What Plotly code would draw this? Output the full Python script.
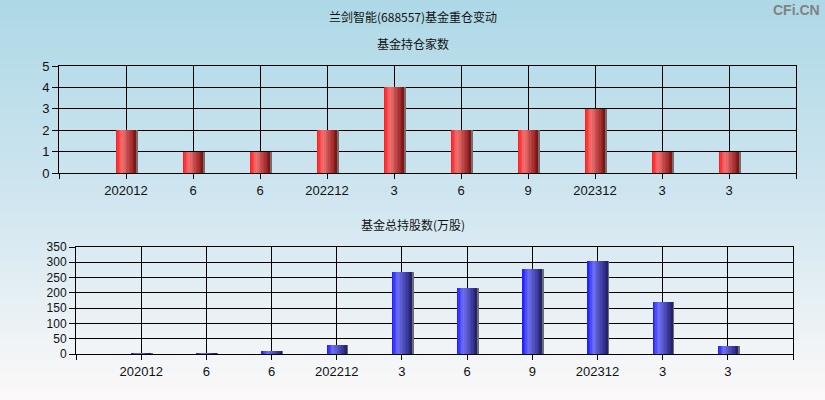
import plotly.graph_objects as go

# ---- data ----
categories = ["202012", "6", "6", "202212", "3", "6", "9", "202312", "3", "3"]
fund_counts = [2, 1, 1, 2, 4, 2, 2, 3, 1, 1]
fund_shares = [3, 3, 10, 29, 268, 216, 278, 304, 170, 26]

title_main = "兰剑智能(688557)基金重仓变动"
title_top = "基金持仓家数"
title_bottom = "基金总持股数(万股)"

W, H = 825, 400
FONT = "Liberation Sans, Arial, Noto Sans CJK SC, sans-serif"
CJK = "Noto Sans CJK SC, sans-serif"


def lerp(c1, c2, t):
    return tuple(int(round(a + (b - a) * t)) for a, b in zip(c1, c2))


def grad_color(stops, t):
    for (p1, c1), (p2, c2) in zip(stops[:-1], stops[1:]):
        if p1 <= t <= p2:
            return lerp(c1, c2, (t - p1) / (p2 - p1))
    return stops[-1][1]


red_stops = [(0.0, (255, 20, 20)), (0.3, (242, 115, 115)), (1.0, (125, 15, 15))]
blue_stops = [(0.0, (25, 25, 255)), (0.3, (112, 112, 245)), (1.0, (30, 30, 105))]

fig = go.Figure()

x_pos = list(range(1, len(categories) + 1))


def add_grad_bars(values, stops, bw, xa, ya, n=14):
    # shadow
    fig.add_trace(go.Bar(x=x_pos, y=values, width=0.03, offset=bw / 2 - 0.005,
                         marker=dict(color="rgb(110,110,110)", line=dict(width=0)),
                         xaxis=xa, yaxis=ya, hoverinfo="skip", showlegend=False))
    dw = bw / n
    for i in range(n):
        t = (i + 0.5) / n
        c = grad_color(stops, t)
        fig.add_trace(go.Bar(x=x_pos, y=values, width=bw - i * dw, offset=-bw / 2 + i * dw,
                             marker=dict(color="rgb(%d,%d,%d)" % c, line=dict(width=0)),
                             xaxis=xa, yaxis=ya, hoverinfo="skip", showlegend=False))


add_grad_bars(fund_counts, red_stops, 0.30, "x", "y")
add_grad_bars(fund_shares, blue_stops, 0.31, "x2", "y2")

# background gradient
shapes = []
N = 60
top_c, mid_c, bot_c = (173, 216, 230), (208, 230, 240), (252, 249, 249)
for i in range(N):
    t = (i + 0.5) / N  # 0 at top
    if t < 0.5:
        c = lerp(top_c, mid_c, t / 0.5)
    else:
        c = lerp(mid_c, bot_c, (t - 0.5) / 0.5)
    y1 = 1 - i / N
    y0 = 1 - (i + 1) / N - 0.002
    shapes.append(dict(type="rect", xref="paper", yref="paper", x0=0, x1=1,
                       y0=max(y0, 0), y1=y1, fillcolor="rgb(%d,%d,%d)" % c,
                       line=dict(width=0), layer="below"))

tickvals = list(range(0, len(categories) + 2))
ticktext = [""] + categories + [""]

xcommon = dict(range=[0, len(categories) + 1], tickmode="array", tickvals=tickvals,
               ticktext=ticktext, showgrid=True, gridcolor="black", gridwidth=1,
               showline=True, linecolor="black", linewidth=1, mirror=True,
               ticks="outside", ticklen=5, tickcolor="black", zeroline=False,
               automargin=False,
               tickfont=dict(family=FONT, size=13, color="#111"), fixedrange=True)
ycommon = dict(showgrid=True, gridcolor="black", gridwidth=1, showline=True,
               linecolor="black", linewidth=1, mirror=True, ticks="outside",
               ticklen=6, tickcolor="black", zeroline=False, fixedrange=True,
               automargin=False,
               tickfont=dict(family=FONT, size=13, color="#111"))

fig.update_layout(
    template="none",
    width=W, height=H, margin=dict(l=0, r=0, t=0, b=0, pad=0), autosize=False,
    paper_bgcolor="rgb(215,234,242)", plot_bgcolor="rgba(0,0,0,0)",
    barmode="overlay", bargap=0, showlegend=False, shapes=shapes,
    xaxis=dict(domain=[59 / W, 796 / W], anchor="y", **xcommon),
    yaxis=dict(domain=[(H - 173) / H, (H - 66) / H], anchor="x", range=[0, 5], dtick=1, **ycommon),
    xaxis2=dict(domain=[76 / W, 793 / W], anchor="y2", **xcommon),
    yaxis2=dict(domain=[(H - 354) / H, (H - 247) / H], anchor="x2", range=[0, 350], dtick=50,
                **{**ycommon, "tickfont": dict(family=FONT, size=12, color="#111")}),
    annotations=[
        dict(text=title_main, x=0.5, y=(H - 17) / H, xref="paper", yref="paper",
             yanchor="middle", showarrow=False, font=dict(family=CJK, size=12, color="#111")),
        dict(text=title_top, x=0.5, y=(H - 43) / H, xref="paper", yref="paper",
             yanchor="middle", showarrow=False, font=dict(family=CJK, size=12, color="#111")),
        dict(text=title_bottom, x=0.5, y=(H - 224) / H, xref="paper", yref="paper",
             yanchor="middle", showarrow=False, font=dict(family=CJK, size=12, color="#111")),
        dict(text="<b>CFi.CN</b>", x=822 / W, y=(H - 10) / H, xref="paper", yref="paper",
             xanchor="right", yanchor="middle", showarrow=False,
             font=dict(family="Liberation Sans, Arial, sans-serif", size=14, color="rgb(130,130,130)")),
    ],
)

fig.write_html("out.html", config={"displayModeBar": False},
               post_script="document.body.style.margin='0';document.body.style.overflow='hidden';")
